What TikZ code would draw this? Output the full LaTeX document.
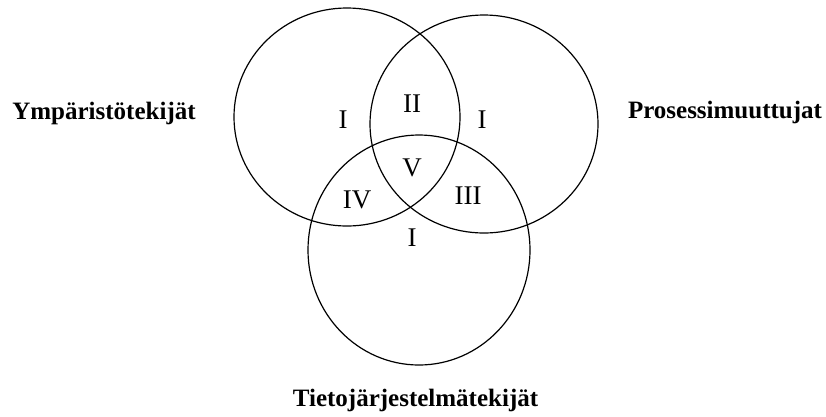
\documentclass[tikz,border=0pt]{standalone}
\usepackage{fontspec}
\setmainfont{Liberation Serif}
\begin{document}
\begin{tikzpicture}[x=1pt,y=-1pt,
  ring/.style={draw=black,line width=1.2pt},
  roman/.style={font=\fontsize{27}{30}\selectfont,inner sep=0pt,anchor=base},
  outer/.style={font=\fontsize{25}{28}\selectfont\bfseries,inner sep=0pt,anchor=base}]
\useasboundingbox[fill=white] (0,0) rectangle (826,416);
\coordinate (cl) at (347,117);
\coordinate (cr) at (484,124);
\coordinate (cb) at (419,250);
\draw[ring] (cl) ellipse [x radius=113, y radius=109];
\draw[ring] (cr) ellipse [x radius=114, y radius=109];
\draw[ring] (cb) ellipse [x radius=111, y radius=115];
\node[roman] (r1) at (343,128) {I};
\node[roman] (r2) at (412,112) {II};
\node[roman] (r3) at (482,128) {I};
\node[roman] (r4) at (412,176) {V};
\node[roman] (r5) at (357,208) {IV};
\node[roman] (r6) at (468,204) {III};
\node[roman] (r7) at (412,246) {I};
\node[outer] (lab1) at (104,119) {Ympäristötekijät};
\node[outer] (lab2) at (725,118) {Prosessimuuttujat};
\node[outer] (lab3) at (415.5,406) {Tietojärjestelmätekijät};
\end{tikzpicture}
\end{document}
